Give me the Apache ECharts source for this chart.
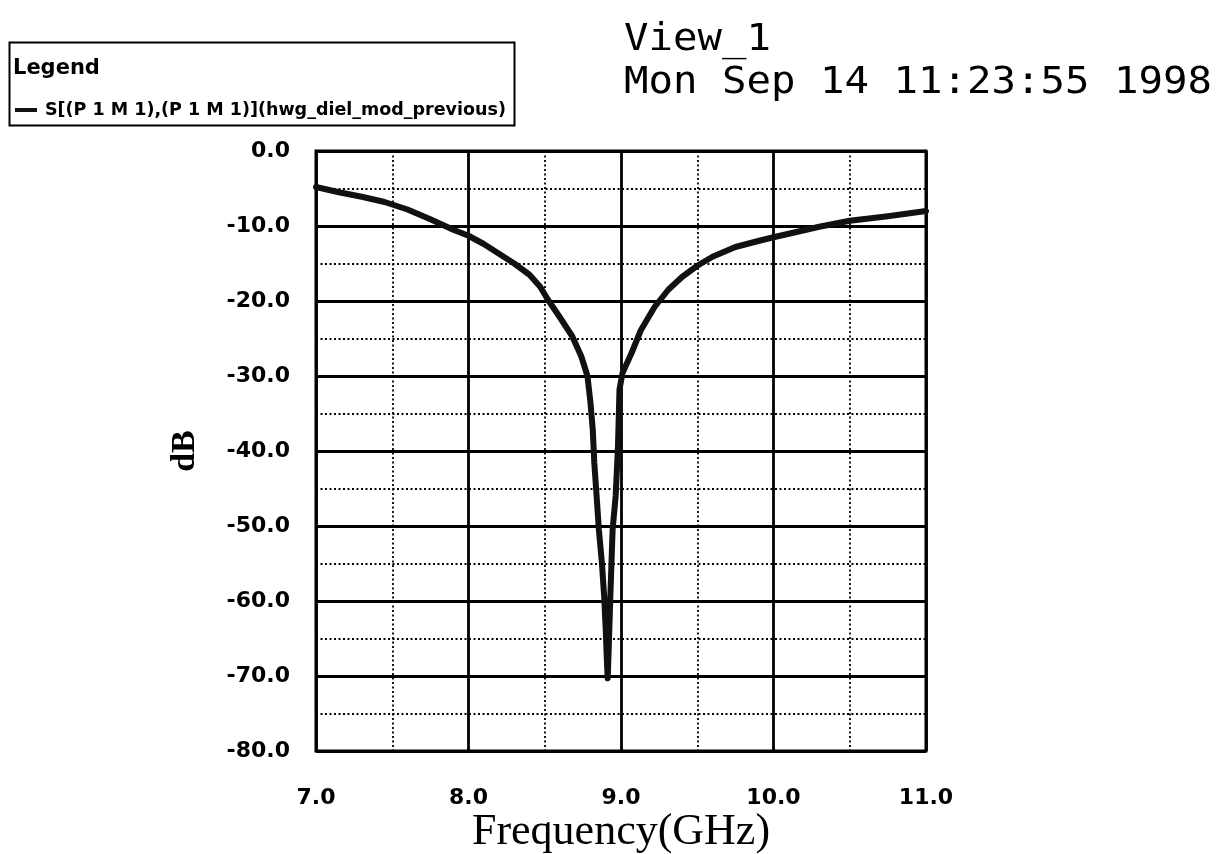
<!DOCTYPE html>
<html>
<head>
<meta charset="utf-8">
<script src="https://cdn.jsdelivr.net/npm/echarts@6/dist/echarts.min.js"></script>
<style>html,body{margin:0;padding:0;background:#fff;}#chart{width:1227px;height:854px;}</style>
</head>
<body>
<div id="chart"></div>
<script>
const seriesName = 'S[(P 1 M 1),(P 1 M 1)](hwg_diel_mod_previous)';
const freqGHz = [7.0, 7.15, 7.3, 7.45, 7.6, 7.75, 7.9, 8.0, 8.1, 8.2, 8.3, 8.4, 8.47, 8.52, 8.6, 8.68, 8.74, 8.78, 8.8, 8.815, 8.825, 8.84, 8.855, 8.875, 8.89, 8.9, 8.908, 8.913,
                 8.92, 8.93, 8.945, 8.965, 8.98, 8.99, 9.01, 9.07, 9.13, 9.22, 9.31, 9.4, 9.5, 9.6, 9.75, 9.9, 10.0, 10.15, 10.3, 10.5, 10.75, 11.0];
const dBValues = [-4.8, -5.5, -6.1, -6.8, -7.8, -9.1, -10.5, -11.3, -12.4, -13.7, -15.0, -16.5, -18.1, -19.8, -22.2, -24.7, -27.4, -30.0, -33.6, -37.2, -41.6, -46.0, -50.5, -55.0, -59.5, -63.9, -68.3, -70.3,
                  -66.0, -59.5, -50.5, -46.0, -39.5, -31.8, -29.6, -26.9, -23.9, -20.8, -18.5, -16.8, -15.3, -14.1, -12.8, -12.0, -11.5, -10.8, -10.1, -9.3, -8.7, -8.0];
const titleLines = ['View_1', 'Mon Sep 14 11:23:55 1998'];
const legendTitle = 'Legend';
const xName = 'Frequency(GHz)';
const yName = 'dB';

const chart = echarts.init(document.getElementById('chart'), null, {renderer: 'canvas'});
const data = freqGHz.map((f, i) => [f, dBValues[i]]);

const tickFont = {fontFamily: 'DejaVu Sans', fontWeight: 'bold', fontSize: 22, color: '#000'};

chart.setOption({
  animation: false,
  backgroundColor: '#fff',
  grid: {left: 316, right: 301, top: 151, bottom: 103, show: true, borderColor: '#000', borderWidth: 3, containLabel: false, outerBoundsMode: 'none'},
  legend: {
    data: [seriesName], left: 10, top: 96, icon: 'rect', itemWidth: 22, itemHeight: 4,
    textStyle: {fontFamily: 'DejaVu Sans', fontWeight: 'bold', fontSize: 17.5, color: '#000', padding: [0, 0, 0, 3]}
  },
  graphic: [
    {type: 'rect', left: 7, top: 40, shape: {width: 505, height: 83}, style: {fill: 'none', stroke: '#000', lineWidth: 2}},
    {type: 'text', left: 13, top: 58, style: {text: legendTitle, font: 'bold 21px "DejaVu Sans"', fill: '#000'}},
    {type: 'text', x: 624, y: 22, scaleX: 1.1, style: {text: titleLines[0], font: '37px "DejaVu Sans Mono"', fill: '#000', verticalAlign: 'top'}},
    {type: 'text', x: 624, y: 65, scaleX: 1.1, style: {text: titleLines[1], font: '37px "DejaVu Sans Mono"', fill: '#000', verticalAlign: 'top'}}
  ],
  xAxis: {
    type: 'value', min: 7, max: 11, interval: 1,
    name: xName, nameLocation: 'middle', nameGap: 59, nameMoveOverlap: false,
    nameTextStyle: {fontFamily: 'Liberation Serif', fontSize: 44, color: '#000', verticalAlign: 'top'},
    axisLine: {show: false}, axisTick: {show: false},
    axisLabel: Object.assign({margin: 36, formatter: v => v.toFixed(1)}, tickFont),
    splitLine: {show: true, lineStyle: {color: '#000', width: 2.8}},
    minorTick: {show: false, splitNumber: 2},
    minorSplitLine: {show: true, lineStyle: {color: '#000', width: 1.8, type: [2, 2.5]}}
  },
  yAxis: {
    type: 'value', min: -80, max: 0, interval: 10,
    name: yName, nameLocation: 'middle', nameGap: 114, nameRotate: 90, nameMoveOverlap: false,
    nameTextStyle: {fontFamily: 'Liberation Serif', fontWeight: 'bold', fontSize: 34, color: '#000'},
    axisLine: {show: false}, axisTick: {show: false},
    axisLabel: Object.assign({margin: 26, formatter: v => v.toFixed(1)}, tickFont),
    splitLine: {show: true, lineStyle: {color: '#000', width: 2.8}},
    minorTick: {show: false, splitNumber: 2},
    minorSplitLine: {show: true, lineStyle: {color: '#000', width: 1.8, type: [2, 2.5]}}
  },
  series: [{
    name: seriesName, type: 'line', data: data, showSymbol: false, smooth: false,
    lineStyle: {color: '#111', width: 6, join: 'round', cap: 'round'},
    itemStyle: {color: '#111'}
  }]
});
</script>
</body>
</html>
